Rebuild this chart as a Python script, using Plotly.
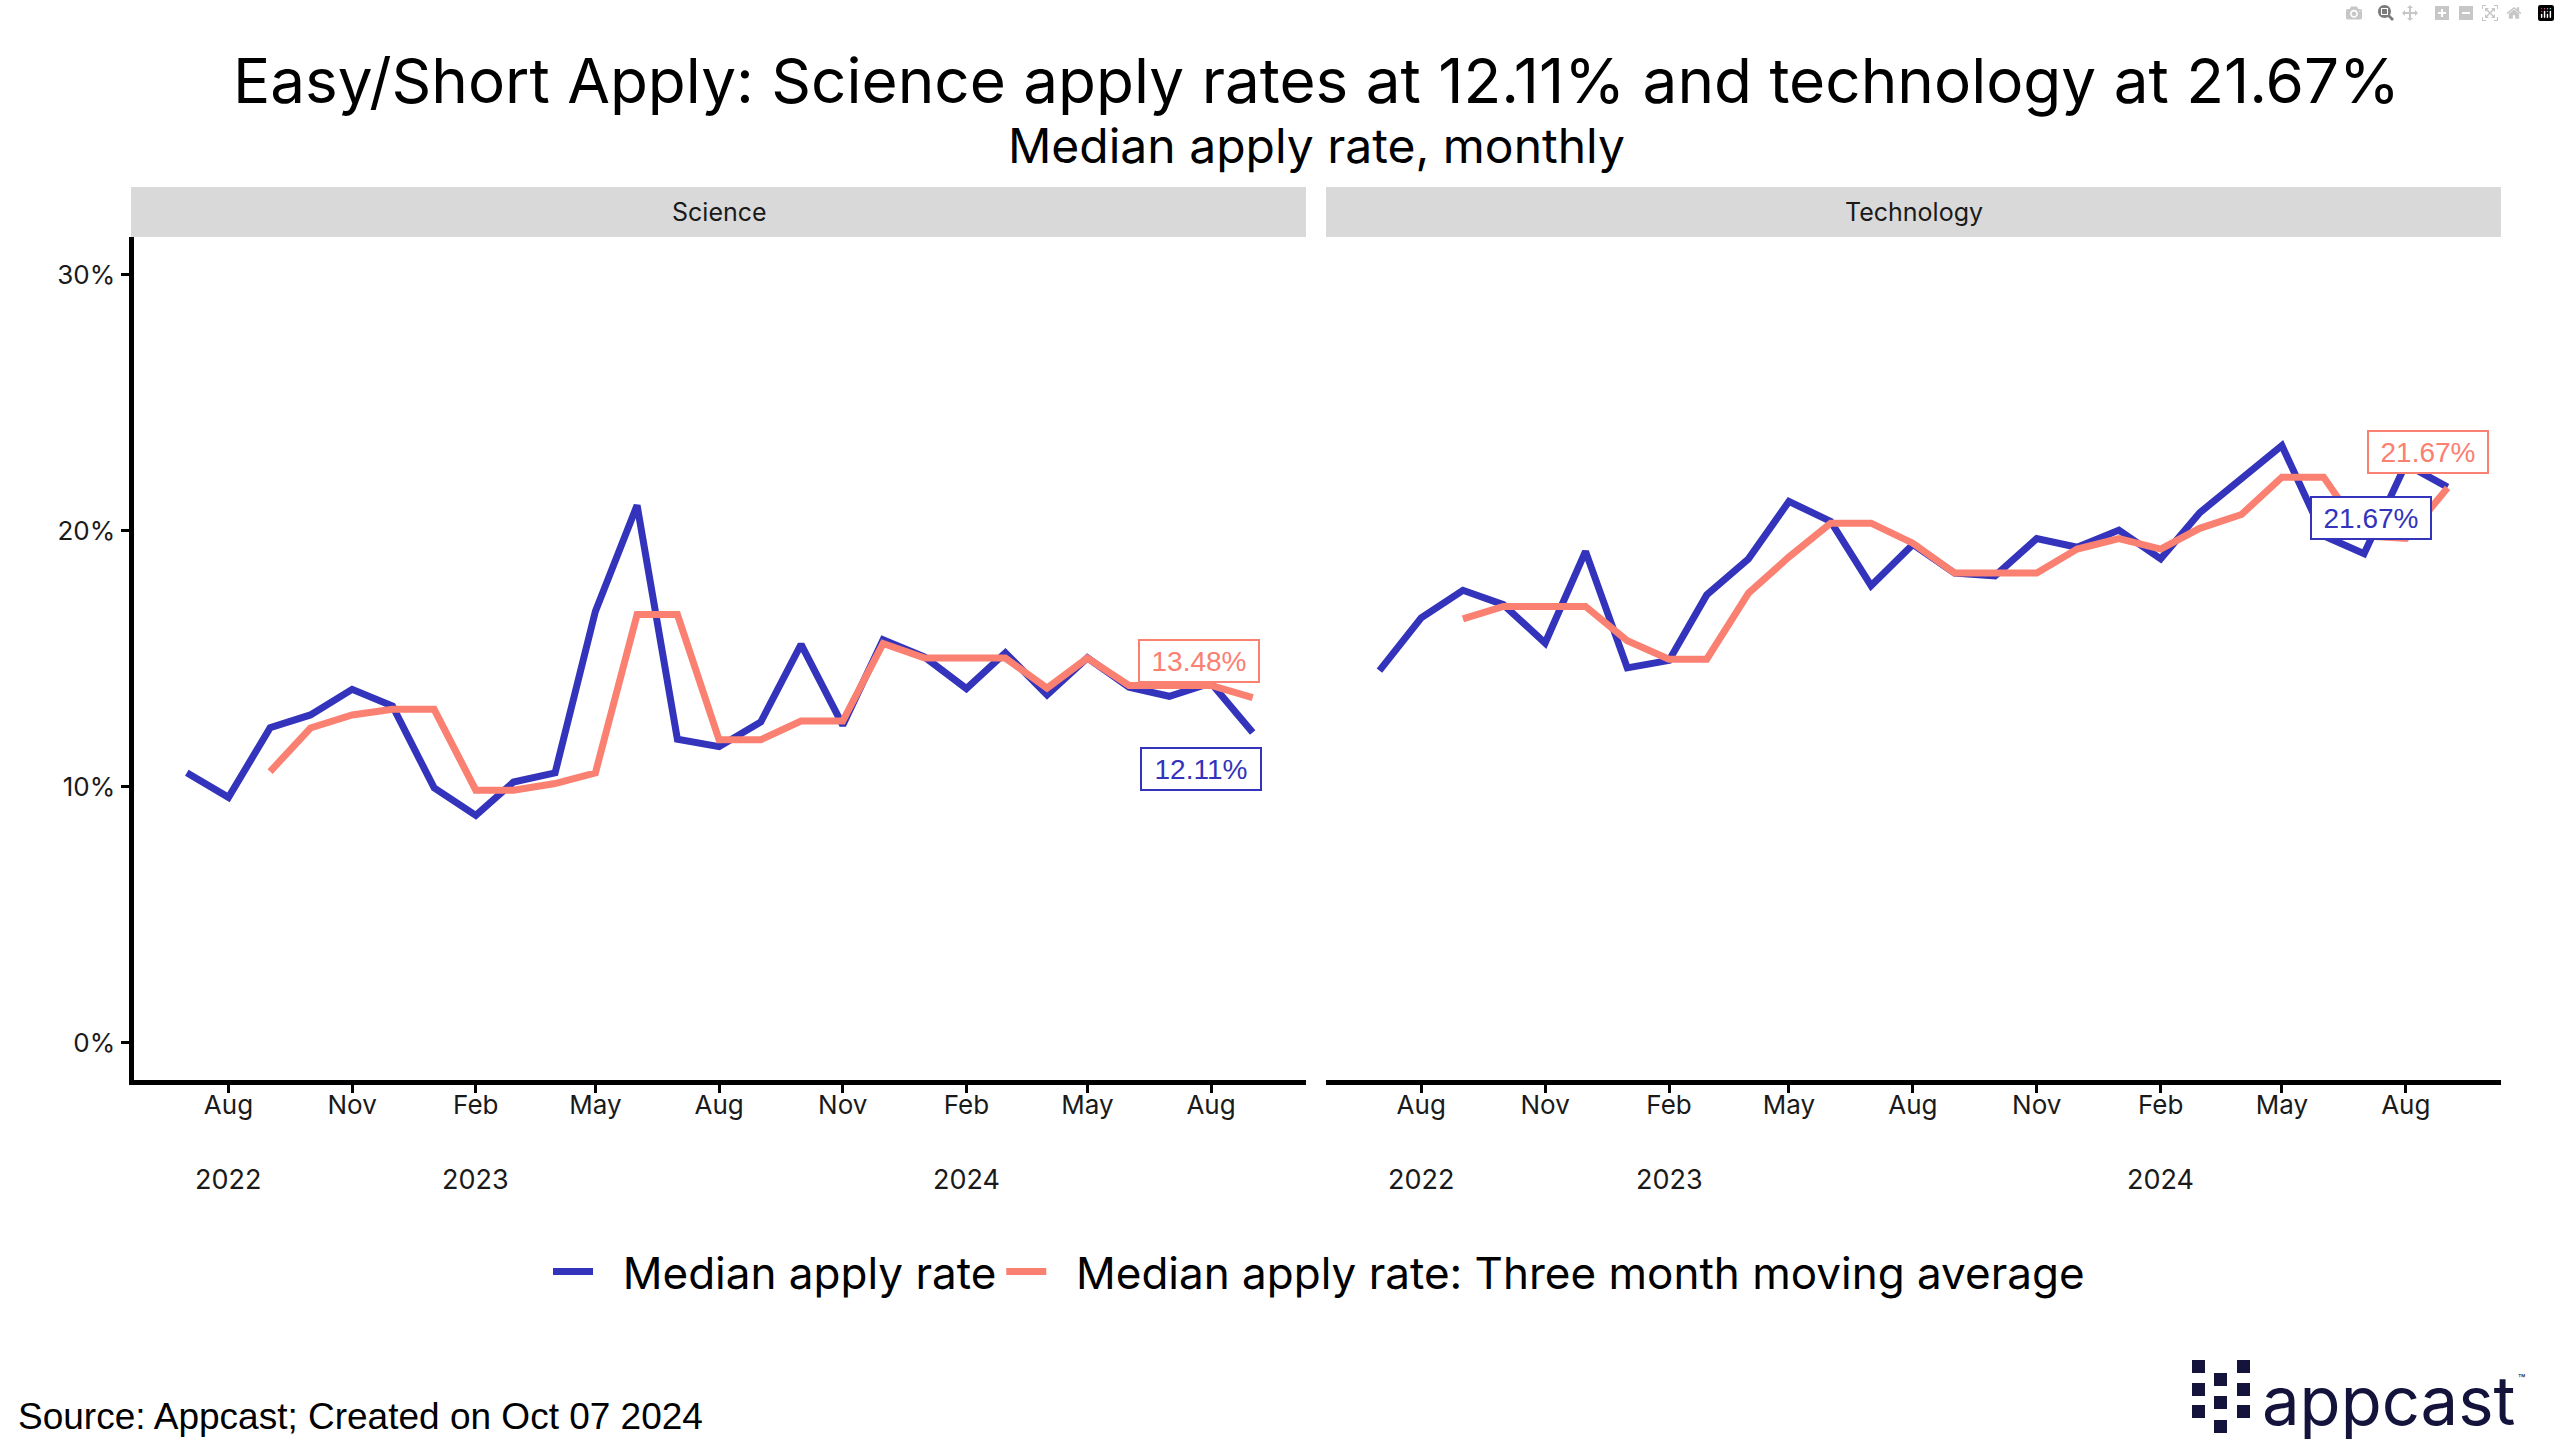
import plotly.graph_objects as go

# ---------------- data ----------------
months = ['2022-07-01', '2022-08-01', '2022-09-01', '2022-10-01', '2022-11-01', '2022-12-01',
          '2023-01-01', '2023-02-01', '2023-03-01', '2023-04-01', '2023-05-01', '2023-06-01',
          '2023-07-01', '2023-08-01', '2023-09-01', '2023-10-01', '2023-11-01', '2023-12-01',
          '2024-01-01', '2024-02-01', '2024-03-01', '2024-04-01', '2024-05-01', '2024-06-01',
          '2024-07-01', '2024-08-01', '2024-09-01']

science_rate = [10.54, 9.58, 12.30, 12.80, 13.80, 13.15, 9.95, 8.88, 10.18, 10.54, 16.85, 20.99,
                11.85, 11.56, 12.52, 15.56, 12.40, 15.74, 15.06, 13.83, 15.23, 13.58, 15.03, 13.88,
                13.53, 14.05, 12.11]
science_ma = [None, None, 10.59, 12.29, 12.80, 13.02, 13.02, 9.86, 9.86, 10.12, 10.54, 16.72,
              16.72, 11.83, 11.83, 12.56, 12.56, 15.59, 15.02, 15.02, 15.02, 13.85, 15.02, 13.95,
              13.95, 13.95, 13.48]

tech_rate = [14.53, 16.59, 17.67, 17.11, 15.61, 19.19, 14.64, 14.93, 17.49, 18.90, 21.14, 20.36,
             17.85, 19.46, 18.34, 18.23, 19.69, 19.35, 20.02, 18.90, 20.70, 22.04, 23.32, 19.80,
             19.10, 22.60, 21.70]
tech_ma = [None, None, 16.55, 17.04, 17.04, 17.04, 15.70, 14.98, 14.98, 17.56, 18.97, 20.29,
           20.29, 19.51, 18.34, 18.34, 18.34, 19.28, 19.69, 19.28, 20.09, 20.63, 22.09, 22.09,
           19.80, 19.70, 21.67]

science_labels = {'rate': '12.11%', 'ma': '13.48%'}
tech_labels = {'rate': '21.67%', 'ma': '21.67%'}

tick_dates = ['2022-08-01', '2022-11-01', '2023-02-01', '2023-05-01', '2023-08-01',
              '2023-11-01', '2024-02-01', '2024-05-01', '2024-08-01']
tick_months = ['Aug', 'Nov', 'Feb', 'May', 'Aug', 'Nov', 'Feb', 'May', 'Aug']
year_dates = ['2022-08-01', '2023-02-01', '2024-02-01']
year_labels = ['2022', '2023', '2024']
y_ticks = [0, 10, 20, 30]
y_tick_labels = ['0%', '10%', '20%', '30%']

panel_names = ['Science', 'Technology']
series_names = ['Median apply rate', 'Median apply rate: Three month moving average']

title = 'Easy/Short Apply: Science apply rates at 12.11% and technology at 21.67%'
subtitle = 'Median apply rate, monthly'
source = 'Source: Appcast; Created on Oct 07 2024'

# ---------------- style ----------------
W, H = 2560, 1455
BLUE = '#3333BB'
SALMON = '#FA8072'
NAVY = '#13133B'
FONT = 'Inter'
PAD = '\u00a0\u00a0'  # visual gap between legend key and legend text


def px(x):
    return x / W


def py(y):
    return 1 - y / H


sci_dom = [px(133.5), px(1306)]
tech_dom = [px(1326), px(2501)]
y_dom = [py(1080), py(237)]
y_range = [-1.46, 31.47]
x_range = ['2022-05-22 08:00', '2024-10-10 16:00']

fig = go.Figure()

fig.add_trace(go.Scatter(x=months, y=science_rate, xaxis='x', yaxis='y', mode='lines',
                         line=dict(color=BLUE, width=7), name=PAD + series_names[0],
                         legendgroup='rate', showlegend=True))
fig.add_trace(go.Scatter(x=months, y=tech_rate, xaxis='x2', yaxis='y2', mode='lines',
                         line=dict(color=BLUE, width=7), name=PAD + series_names[0],
                         legendgroup='rate', showlegend=False))
fig.add_trace(go.Scatter(x=months, y=science_ma, xaxis='x', yaxis='y', mode='lines',
                         line=dict(color=SALMON, width=7), name=PAD + series_names[1],
                         legendgroup='ma', showlegend=True))
fig.add_trace(go.Scatter(x=months, y=tech_ma, xaxis='x2', yaxis='y2', mode='lines',
                         line=dict(color=SALMON, width=7), name=PAD + series_names[1],
                         legendgroup='ma', showlegend=False))

xaxis_common = dict(type='date', range=x_range, tickmode='array', tickvals=tick_dates,
                    ticktext=tick_months, ticks='outside', ticklen=8, tickwidth=3,
                    tickcolor='black', showline=True, linewidth=5, linecolor='black',
                    showgrid=False, zeroline=False, automargin=False,
                    ticklabelstandoff=-10,
                    tickfont=dict(family=FONT, size=26, color='#1a1a1a'))

fig.update_layout(
    template='none',
    width=W, height=H, autosize=False,
    margin=dict(l=0, r=0, t=0, b=0),
    paper_bgcolor='white', plot_bgcolor='white',
    xaxis=dict(domain=sci_dom, anchor='y', **xaxis_common),
    xaxis2=dict(domain=tech_dom, anchor='y2', **xaxis_common),
    yaxis=dict(domain=y_dom, anchor='x', range=y_range, tickmode='array',
               tickvals=y_ticks, ticktext=y_tick_labels, ticks='outside', ticklen=8,
               tickwidth=3, tickcolor='black', showline=True, linewidth=5,
               linecolor='black', showgrid=False, zeroline=False, automargin=False,
               tickfont=dict(family=FONT, size=26, color='#1a1a1a')),
    yaxis2=dict(domain=y_dom, anchor='x2', matches='y', range=y_range,
                showticklabels=False, ticks='', showline=False, showgrid=False,
                zeroline=False, automargin=False),
    showlegend=True,
    legend=dict(orientation='h', x=px(1319), xanchor='center', y=py(1272), yanchor='middle',
                font=dict(family=FONT, size=44, color='black'), bgcolor='rgba(0,0,0,0)',
                itemwidth=40, traceorder='normal'),
)

shapes = []
annotations = []

# facet strips
for dom, name in zip([sci_dom, tech_dom], panel_names):
    shapes.append(dict(type='rect', xref='paper', yref='paper',
                       x0=px(131) if name == panel_names[0] else dom[0],
                       x1=dom[1], y0=py(237), y1=py(187), fillcolor='#D9D9D9',
                       line=dict(width=0), layer='below'))
    annotations.append(dict(text=name, xref='paper', yref='paper', x=(dom[0] + dom[1]) / 2,
                            y=py(212), xanchor='center', yanchor='middle', showarrow=False,
                            font=dict(family=FONT, size=25, color='#1a1a1a')))

# titles
annotations.append(dict(text=title, xref='paper', yref='paper', x=px(1316), y=py(80),
                        xanchor='center', yanchor='middle', showarrow=False,
                        font=dict(family=FONT, size=62, color='black')))
annotations.append(dict(text=subtitle, xref='paper', yref='paper', x=px(1316), y=py(146),
                        xanchor='center', yanchor='middle', showarrow=False,
                        font=dict(family=FONT, size=48, color='black')))

# year labels
for xr in ['x', 'x2']:
    for d, lab in zip(year_dates, year_labels):
        annotations.append(dict(text=lab, xref=xr, yref='paper', x=d, y=py(1179),
                                xanchor='center', yanchor='middle', showarrow=False,
                                font=dict(family=FONT, size=27, color='#1a1a1a')))


# end labels
def end_label(xr, yr, yval, text, color, xs, ys):
    return dict(text=text, xref=xr, yref=yr, x=months[-1], y=yval, xanchor='center',
                yanchor='middle', showarrow=False, xshift=xs, yshift=ys,
                bgcolor='white', bordercolor=color, borderwidth=2, borderpad=3,
                width=112, height=34,
                font=dict(family='Liberation Sans', size=28, color=color))


annotations.append(end_label('x', 'y', science_ma[-1], science_labels['ma'], SALMON, -54, 37))
annotations.append(end_label('x', 'y', science_rate[-1], science_labels['rate'], BLUE, -52, -36))
annotations.append(end_label('x2', 'y2', tech_ma[-1], tech_labels['ma'], SALMON, -20, 36))
annotations.append(end_label('x2', 'y2', tech_rate[-1], tech_labels['rate'], BLUE, -77, -31))

# source
annotations.append(dict(text=source, xref='paper', yref='paper', x=px(16), y=py(1416),
                        xanchor='left', yanchor='middle', showarrow=False,
                        font=dict(family='Liberation Sans', size=37, color='black')))

# appcast logo (squares + word mark)
sq = 13
cols_outer = [2192, 2237]
rows_outer = [1360, 1383, 1405]
col_mid = 2214
rows_mid = [1373, 1396, 1420]
for cx in cols_outer:
    for ry in rows_outer:
        shapes.append(dict(type='rect', xref='paper', yref='paper', x0=px(cx), x1=px(cx + sq),
                           y0=py(ry + sq), y1=py(ry), fillcolor=NAVY, line=dict(width=0)))
for ry in rows_mid:
    shapes.append(dict(type='rect', xref='paper', yref='paper', x0=px(col_mid),
                       x1=px(col_mid + sq), y0=py(ry + sq), y1=py(ry), fillcolor=NAVY,
                       line=dict(width=0)))
annotations.append(dict(text='appcast', xref='paper', yref='paper', x=px(2260), y=py(1400),
                        xanchor='left', yanchor='middle', showarrow=False,
                        font=dict(family=FONT, size=67, color=NAVY)))
annotations.append(dict(text='™', xref='paper', yref='paper', x=px(2516), y=py(1378),
                        xanchor='left', yanchor='middle', showarrow=False,
                        font=dict(family=FONT, size=12, color=NAVY)))

fig.update_layout(shapes=shapes, annotations=annotations)

fig.write_html('out.html', post_script="document.body.style.margin='0';")
